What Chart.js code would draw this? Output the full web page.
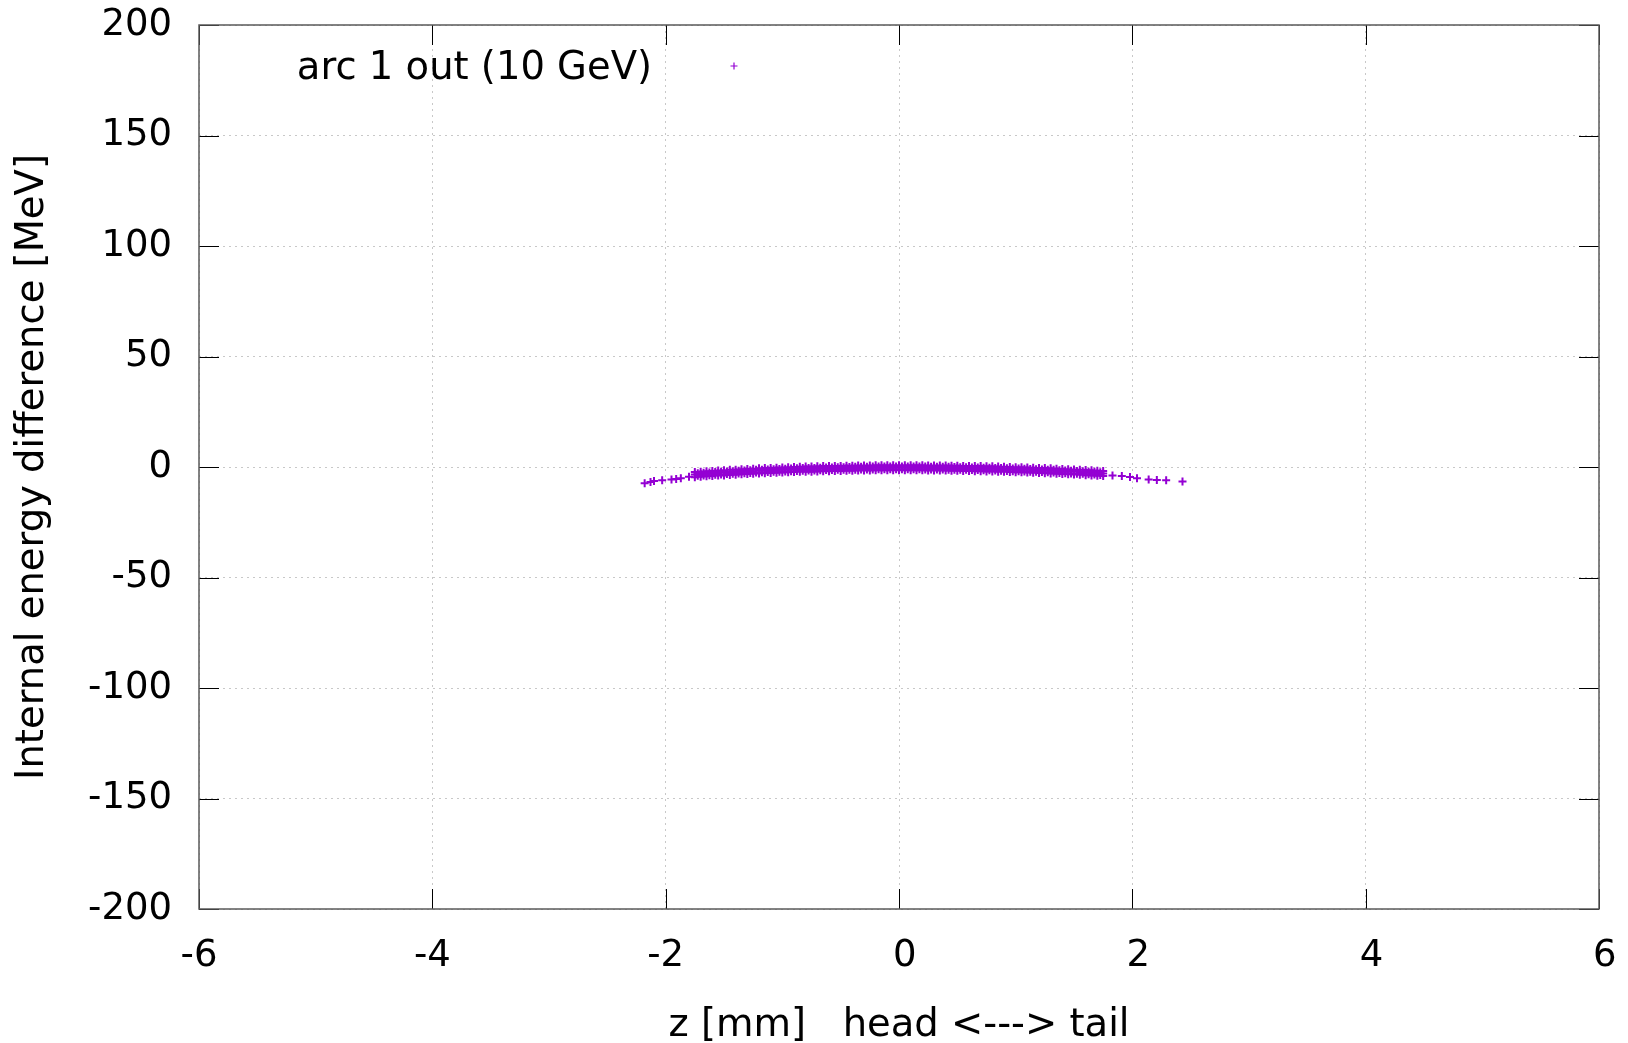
<!DOCTYPE html>
<html>
<head>
<meta charset="utf-8">
<title>arc 1 out</title>
<script src="https://cdn.jsdelivr.net/npm/chart.js@4.4.1/dist/chart.umd.min.js"></script>
<style>
  html, body { margin: 0; padding: 0; background: #fff; }
  canvas { display: block; }
</style>
</head>
<body>
<canvas id="chart" width="1628" height="1043"></canvas>
<script>
// data (z in mm, energy in MeV)
const seriesName = 'arc 1 out (10 GeV)';

// dense core of the bunch: rows along the arc
const zBand = [
  -1.75, -1.70, -1.65, -1.60, -1.55, -1.50, -1.45, -1.40, -1.35, -1.30,
  -1.25, -1.20, -1.15, -1.10, -1.05, -1.00, -0.95, -0.90, -0.85, -0.80,
  -0.75, -0.70, -0.65, -0.60, -0.55, -0.50, -0.45, -0.40, -0.35, -0.30,
  -0.25, -0.20, -0.15, -0.10, -0.05, 0.00,
  0.05, 0.10, 0.15, 0.20, 0.25, 0.30, 0.35, 0.40, 0.45, 0.50,
  0.55, 0.60, 0.65, 0.70, 0.75, 0.80, 0.85, 0.90, 0.95, 1.00,
  1.05, 1.10, 1.15, 1.20, 1.25, 1.30, 1.35, 1.40, 1.45, 1.50,
  1.55, 1.60, 1.65, 1.70, 1.75
];
const eBandUpper = [
  -2.3, -2.1, -1.9, -1.8, -1.6, -1.5, -1.3, -1.2, -1.0, -0.9,
  -0.8, -0.6, -0.5, -0.4, -0.3, -0.2, -0.1, 0.0, 0.1, 0.2,
  0.2, 0.3, 0.4, 0.4, 0.5, 0.5, 0.6, 0.6, 0.7, 0.7,
  0.7, 0.8, 0.8, 0.8, 0.8, 0.8,
  0.8, 0.8, 0.8, 0.8, 0.7, 0.7, 0.7, 0.7, 0.6, 0.6,
  0.5, 0.5, 0.4, 0.4, 0.3, 0.3, 0.2, 0.1, 0.0, -0.1,
  -0.1, -0.2, -0.3, -0.4, -0.5, -0.6, -0.8, -0.9, -1.0, -1.1,
  -1.2, -1.4, -1.5, -1.7, -1.8
];
const eBandMid = [
  -3.4, -3.2, -3.0, -2.9, -2.7, -2.6, -2.4, -2.3, -2.1, -2.0,
  -1.9, -1.7, -1.6, -1.5, -1.4, -1.3, -1.2, -1.1, -1.0, -0.9,
  -0.9, -0.8, -0.7, -0.7, -0.6, -0.6, -0.5, -0.5, -0.4, -0.4,
  -0.4, -0.3, -0.3, -0.3, -0.3, -0.3,
  -0.3, -0.3, -0.3, -0.3, -0.4, -0.4, -0.4, -0.4, -0.5, -0.5,
  -0.6, -0.6, -0.7, -0.7, -0.8, -0.8, -0.9, -1.0, -1.1, -1.2,
  -1.2, -1.3, -1.4, -1.5, -1.6, -1.7, -1.9, -2.0, -2.1, -2.2,
  -2.3, -2.5, -2.6, -2.8, -2.9
];
const eBandLower = [
  -4.6, -4.4, -4.2, -4.1, -3.9, -3.8, -3.6, -3.5, -3.3, -3.2,
  -3.1, -2.9, -2.8, -2.7, -2.6, -2.5, -2.4, -2.3, -2.2, -2.1,
  -2.1, -2.0, -1.9, -1.9, -1.8, -1.8, -1.7, -1.7, -1.6, -1.6,
  -1.6, -1.5, -1.5, -1.5, -1.5, -1.5,
  -1.5, -1.5, -1.5, -1.5, -1.6, -1.6, -1.6, -1.6, -1.7, -1.7,
  -1.8, -1.8, -1.9, -1.9, -2.0, -2.0, -2.1, -2.2, -2.3, -2.4,
  -2.4, -2.5, -2.6, -2.7, -2.8, -2.9, -3.1, -3.2, -3.3, -3.4,
  -3.5, -3.7, -3.8, -4.0, -4.1
];

// particles lying between the rows above
const zBandHalf = [
  -1.725, -1.675, -1.625, -1.575, -1.525, -1.475, -1.425, -1.375, -1.325, -1.275,
  -1.225, -1.175, -1.125, -1.075, -1.025, -0.975, -0.925, -0.875, -0.825, -0.775,
  -0.725, -0.675, -0.625, -0.575, -0.525, -0.475, -0.425, -0.375, -0.325, -0.275,
  -0.225, -0.175, -0.125, -0.075, -0.025,
  0.025, 0.075, 0.125, 0.175, 0.225, 0.275, 0.325, 0.375, 0.425, 0.475,
  0.525, 0.575, 0.625, 0.675, 0.725, 0.775, 0.825, 0.875, 0.925, 0.975,
  1.025, 1.075, 1.125, 1.175, 1.225, 1.275, 1.325, 1.375, 1.425, 1.475,
  1.525, 1.575, 1.625, 1.675, 1.725
];
const eBandHalfA = [
  -2.8, -2.6, -2.5, -2.3, -2.2, -2.0, -1.9, -1.7, -1.6, -1.5,
  -1.3, -1.2, -1.1, -1.0, -0.9, -0.8, -0.7, -0.6, -0.5, -0.4,
  -0.4, -0.3, -0.2, -0.2, -0.1, -0.1, 0.0, 0.1, 0.1, 0.1,
  0.2, 0.2, 0.2, 0.2, 0.2,
  0.2, 0.2, 0.2, 0.2, 0.2, 0.1, 0.1, 0.1, 0.1, 0.0,
  -0.1, -0.1, -0.2, -0.2, -0.3, -0.3, -0.4, -0.5, -0.6, -0.7,
  -0.7, -0.8, -0.9, -1.0, -1.1, -1.2, -1.3, -1.5, -1.6, -1.7,
  -1.8, -1.9, -2.1, -2.2, -2.4
];
const eBandHalfB = [
  -4.0, -3.8, -3.7, -3.5, -3.4, -3.2, -3.1, -2.9, -2.8, -2.7,
  -2.5, -2.4, -2.3, -2.2, -2.1, -2.0, -1.9, -1.8, -1.7, -1.6,
  -1.6, -1.5, -1.4, -1.4, -1.3, -1.3, -1.2, -1.2, -1.1, -1.1,
  -1.1, -1.0, -1.0, -1.0, -1.0,
  -1.0, -1.0, -1.0, -1.0, -1.1, -1.1, -1.1, -1.1, -1.2, -1.2,
  -1.3, -1.3, -1.4, -1.4, -1.5, -1.5, -1.6, -1.7, -1.8, -1.9,
  -1.9, -2.0, -2.1, -2.2, -2.3, -2.4, -2.5, -2.7, -2.8, -2.9,
  -3.0, -3.1, -3.3, -3.4, -3.6
];

// sparse particles at head and tail
const zTail = [-2.18, -2.13, -2.10, -2.03, -1.95, -1.91, -1.87, -1.80,
               1.83, 1.91, 1.98, 2.04, 2.14, 2.21, 2.29, 2.43];
const eTail = [-7.4, -6.8, -6.3, -6.0, -5.7, -5.4, -5.1, -4.4,
               -3.8, -4.1, -4.5, -5.1, -5.6, -5.9, -6.0, -6.6];

// axis ticks (gnuplot pads positive numbers with a space)
const xTicks = [-6, -4, -2, 0, 2, 4, 6];
const xTickLabels = ['-6', '-4', '-2', ' 0', ' 2', ' 4', ' 6'];
const yTicks = [-200, -150, -100, -50, 0, 50, 100, 150, 200];

const xTitle = 'z [mm]   head <---> tail';
const yTitle = 'Internal energy difference [MeV]';

const pointColor = '#9400d3';

function pairUp(xs, ys) {
  return xs.map((x, i) => ({ x: x, y: ys[i] }));
}

const points = [].concat(
  pairUp(zBand, eBandUpper),
  pairUp(zBand, eBandMid),
  pairUp(zBand, eBandLower),
  pairUp(zBandHalf, eBandHalfA),
  pairUp(zBandHalf, eBandHalfB),
  pairUp(zTail, eTail)
);

// frame, inward ticks and the gnuplot-like key
const frameAndKey = {
  id: 'frameAndKey',
  afterDraw(chart) {
    const ctx = chart.ctx;
    const area = chart.chartArea;
    const xs = chart.scales.x;
    const ys = chart.scales.y;
    const tickLen = 20;

    ctx.save();
    ctx.strokeStyle = '#000';
    ctx.lineWidth = 1;
    ctx.beginPath();
    xTicks.forEach(v => {
      const px = Math.round(xs.getPixelForValue(v)) + 0.5;
      ctx.moveTo(px, area.bottom);
      ctx.lineTo(px, area.bottom - tickLen);
      ctx.moveTo(px, area.top);
      ctx.lineTo(px, area.top + tickLen);
    });
    yTicks.forEach(v => {
      const py = Math.round(ys.getPixelForValue(v)) + 0.5;
      ctx.moveTo(area.left, py);
      ctx.lineTo(area.left + tickLen, py);
      ctx.moveTo(area.right, py);
      ctx.lineTo(area.right - tickLen, py);
    });
    ctx.stroke();

    ctx.strokeStyle = '#5a5a5a';
    ctx.lineWidth = 1.5;
    ctx.strokeRect(area.left, area.top, area.right - area.left, area.bottom - area.top);

    // key: text right-aligned, sample marker after it
    ctx.font = '38.5px "DejaVu Sans"';
    ctx.fillStyle = '#000';
    ctx.textAlign = 'right';
    ctx.textBaseline = 'alphabetic';
    ctx.fillText(seriesName, area.left + 453, area.top + 54);

    const mx = area.left + 535;
    const my = area.top + 41;
    ctx.strokeStyle = pointColor;
    ctx.lineWidth = 1.2;
    ctx.beginPath();
    ctx.moveTo(mx - 3.5, my);
    ctx.lineTo(mx + 3.5, my);
    ctx.moveTo(mx, my - 3.5);
    ctx.lineTo(mx, my + 3.5);
    ctx.stroke();
    ctx.restore();
  }
};

Chart.defaults.font.family = '"DejaVu Sans", "Liberation Sans", sans-serif';
Chart.defaults.font.size = 37;
Chart.defaults.color = '#000';

const ctx = document.getElementById('chart').getContext('2d');

new Chart(ctx, {
  type: 'scatter',
  data: {
    datasets: [{
      label: seriesName,
      data: points,
      pointStyle: 'cross',
      pointRadius: 4,
      pointHoverRadius: 4,
      borderWidth: 2,
      borderColor: pointColor,
      backgroundColor: pointColor,
      showLine: false
    }]
  },
  options: {
    responsive: false,
    animation: false,
    devicePixelRatio: 1,
    layout: {
      padding: { top: 25, right: 29, left: 0, bottom: 0 }
    },
    plugins: {
      legend: { display: false },
      tooltip: { enabled: false }
    },
    scales: {
      x: {
        type: 'linear',
        min: -6,
        max: 6,
        afterBuildTicks: axis => { axis.ticks = xTicks.map(v => ({ value: v })); },
        afterFit: axis => {
          axis.height = 134;
          axis.paddingLeft = 0;
          axis.paddingRight = 0;
        },
        ticks: {
          padding: 25,
          font: { size: 37 },
          maxRotation: 0,
          callback: (value, index) => xTickLabels[index]
        },
        grid: { color: '#c8c8c8', lineWidth: 1, drawTicks: false },
        border: { display: false, dash: [2, 4] },
        title: {
          display: true,
          text: xTitle,
          font: { size: 38.5 },
          padding: { top: 0, bottom: -6 }
        }
      },
      y: {
        type: 'linear',
        min: -200,
        max: 200,
        afterBuildTicks: axis => { axis.ticks = yTicks.map(v => ({ value: v })); },
        afterFit: axis => {
          axis.width = 199;
          axis.paddingTop = 0;
          axis.paddingBottom = 0;
        },
        ticks: { padding: 27, font: { size: 37 } },
        grid: { color: '#c8c8c8', lineWidth: 1, drawTicks: false },
        border: { display: false, dash: [2, 4] },
        title: {
          display: true,
          text: yTitle,
          font: { size: 38.5 },
          padding: { top: 10, bottom: 0 }
        }
      }
    }
  },
  plugins: [frameAndKey]
});
</script>
</body>
</html>
